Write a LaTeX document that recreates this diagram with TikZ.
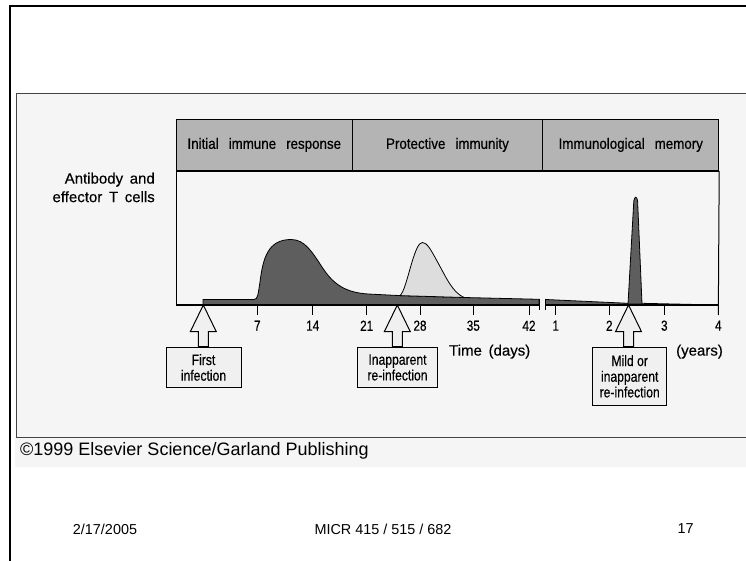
\documentclass[tikz,border=0pt]{standalone}
\usepackage{fontspec}
\setmainfont{Liberation Sans}
\newfontfamily\hdrfont[FakeStretch=0.89,WordSpace=2.7,FakeBold=0.6]{Liberation Sans}
\newfontfamily\narrowfont[FakeStretch=0.81,FakeBold=0.4]{Liberation Sans}
\newfontfamily\labfont[WordSpace=1.6,FakeBold=0.3]{Liberation Sans}
\usetikzlibrary{calc}
\definecolor{panelbg}{HTML}{F5F5F5}
\definecolor{panelline}{HTML}{444444}
\definecolor{hdrgray}{HTML}{B4B4B4}
\definecolor{darkfill}{HTML}{5E5E5E}
\definecolor{lightfill}{HTML}{DDDDDD}
\definecolor{boxfill}{HTML}{F0F0F0}
\tikzset{
  hdr/.style={draw=black, line width=0.9pt, fill=hdrgray, minimum height=51pt, inner sep=0pt, anchor=north west, font=\hdrfont\fontsize{15}{17}\selectfont},
  infobox/.style={draw=black, line width=1pt, fill=boxfill, inner sep=0pt, anchor=north, align=center, font=\narrowfont\fontsize{15}{15.7}\selectfont},
  ticklab/.style={font=\narrowfont\fontsize{14.5}{16}\selectfont, inner sep=0pt},
  axislab/.style={font=\labfont\fontsize{15}{18.5}\selectfont, inner sep=0pt},
  hollowarrow/.style={draw=black, line width=1pt, fill=boxfill, line join=miter},
  curveline/.style={draw=black, line width=0.8pt},
  tickmark/.style={line width=1pt},
  slidetext/.style={font=\fontsize{14.4}{16}\selectfont, inner sep=0pt}
}
\begin{document}
\begin{tikzpicture}[x=1pt,y=-1pt]
\useasboundingbox (0,0) rectangle (746,561);
\fill[white] (0,0) rectangle (746,561);
% slide frame
\draw[line width=2.4pt, line cap=rect] (10,561) -- (10,6) -- (746,6);
% figure panel
\fill[panelbg] (16.7,94) rectangle (746,437);
\fill[panelbg] (15,437) rectangle (746,467);
\draw[panelline, line width=1pt] (746,94) -- (16.7,94) -- (16.7,437) -- (746,437);
% header
\node[hdr, minimum width=175.7pt] (h1) at (176,119) {Initial immune response};
\node[hdr, minimum width=190.6pt] (h2) at (351.7,119) {Protective immunity};
\node[hdr, minimum width=176pt] (h3) at (542.3,119) {Immunological memory};
\draw[line width=1.8pt] (h1.south west) -- (h3.south east);
% plot frame
\coordinate (p0) at (176,305);
\coordinate (p1) at (718.3,305);
\draw[line width=1pt] (h1.south west) -- (p0);
\draw[line width=1pt] (h3.south east) -- ($(p1)+(0,10)$);
% curves
\path[fill=darkfill, curveline]
  (203,305) -- (203,299.5) -- (254,299.5)
  .. controls (258,299.5) and (258,294) .. (260,282)
  .. controls (263,258) and (268,239.5) .. (291,239.5)
  .. controls (305,239.5) and (312,252) .. (322,267)
  .. controls (333,284) and (345,292.5) .. (368,294)
  -- (400,295.6) -- (464,297.5) -- (539,299.3) -- (539,305) -- cycle;
\path[fill=lightfill, curveline]
  (400,295.6) .. controls (404,292) and (407,279) .. (412,262)
  .. controls (416,249) and (419,242.5) .. (422.5,242.5)
  .. controls (427,242.5) and (431,250) .. (437,261)
  .. controls (446,277) and (452,292) .. (464,297.5) -- cycle;
\path[fill=darkfill, curveline] (545.5,305) -- (545.5,299.5) -- (628,303.3) -- (628,305) -- cycle;
\path[fill=lightfill, curveline] (642,303.3) -- (718.3,305) -- (642,305) -- cycle;
\path[fill=darkfill, curveline]
  (628,304) -- (633.8,201) .. controls (634.5,196) and (637,196) .. (637.6,201)
  -- (642,304) -- cycle;
% baseline and break
\draw[line width=2.2pt] (p0) -- (539,305);
\draw[line width=2.2pt] (545.5,305) -- (p1);
\draw[line width=1pt] (539.3,298.5) -- (539.3,310);
\draw[line width=1pt] (545.3,298.5) -- (545.3,310);
% ticks and labels
\foreach \xx/\lab [count=\i] in {257.3/7, 312.7/14, 366.7/21, 420/28, 473.3/35, 529/42, 555.7/1, 609.3/2, 664.3/3, 718.3/4} {
  \draw[tickmark] (\xx,305) -- (\xx,315);
  \node[ticklab] (tl\i) at (\xx,325.7) {\lab};
}
% axis labels
\node[axislab, anchor=east, align=right] (ylab) at (155,187.5) {Antibody and\\effector T cells};
\node[axislab] (tdays) at (489.7,351.7) {Time (days)};
\node[axislab] (tyears) at (699.5,351.7) {(years)};
% infection boxes and arrows
\coordinate (t1) at (203.3,305);
\coordinate (t2) at (397.3,305);
\coordinate (t3) at (628.5,305);
\node[infobox, minimum width=75pt, minimum height=40.6pt] (b1) at (203.5,346.7) {First\\infection};
\node[infobox, minimum width=80.4pt, minimum height=40.6pt] (b2) at (397.5,346.7) {Inapparent\\re-infection};
\node[infobox, minimum width=74pt, minimum height=58.3pt] (b3) at (629.7,346.7) {Mild or\\inapparent\\re-infection};
\foreach \k in {1,2,3} {
  \draw[hollowarrow] (t\k) -- ++(13,26.7) -- ++(-8,0) -- ++(0,15) -- ++(-10,0) -- ++(0,-15) -- ++(-8,0) -- cycle;
}
% credits
\node[font=\fontsize{18}{20}\selectfont, inner sep=0pt, anchor=west] (credit) at (20,451) {©1999 Elsevier Science/Garland Publishing};
\node[slidetext] (date) at (105,529) {2/17/2005};
\node[slidetext] (course) at (383,529) {MICR 415 / 515 / 682};
\node[slidetext] (page) at (685.5,529) {17};
\end{tikzpicture}
\end{document}
